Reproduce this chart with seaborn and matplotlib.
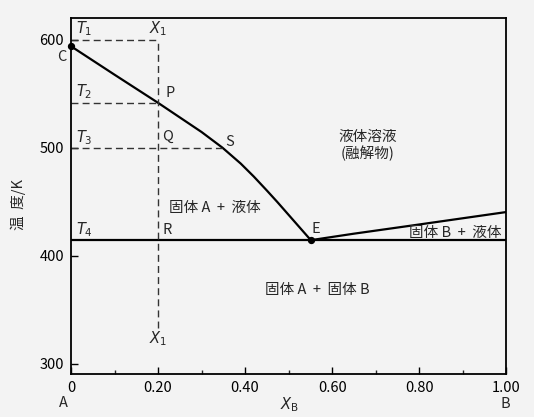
import numpy as np
import pandas as pd
import matplotlib
matplotlib.use('Agg')
import matplotlib.pyplot as plt
import seaborn as sns

# 液相線 (A側, B側) と共晶点
left_x = [0.0, 0.10, 0.20, 0.30, 0.348, 0.39, 0.42, 0.45, 0.474, 0.551]
left_t = [593.8, 567.5, 541.5, 514.5, 500, 485.3, 473.3, 460.4, 449.8, 414.5]
right_x = [0.551, 0.65, 0.80, 1.00]
right_t = [414.5, 420.5, 429, 440.5]
eutectic_t = 414.5
T_levels = [600, 541.5, 500]
x1 = 0.20
xticks = [0, 0.2, 0.4, 0.6, 0.8, 1.0]
xtick_labels = ['0', '0.20', '0.40', '0.60', '0.80', '1.00']
yticks = [300, 400, 500, 600]

sns.set_style('ticks')
plt.rcParams['font.family'] = ['Noto Sans CJK JP', 'DejaVu Sans']
plt.rcParams['axes.unicode_minus'] = False

bg = '#f3f3f3'
fig = plt.figure(figsize=(5.34, 4.17), dpi=100, facecolor=bg)
ax = fig.add_axes([0.133, 0.103, 0.815, 0.854])
ax.set_facecolor(bg)

df_l = pd.DataFrame({'x': left_x, 't': left_t})
df_r = pd.DataFrame({'x': right_x, 't': right_t})
sns.lineplot(data=df_l, x='x', y='t', sort=False, color='black', lw=1.6, ax=ax)
sns.lineplot(data=df_r, x='x', y='t', sort=False, color='black', lw=1.6, ax=ax)
ax.axhline(eutectic_t, color='black', lw=1.6)

# 破線
dash = (0, (5, 3))
ax.hlines(T_levels[0], 0, x1, colors='#333', linestyles=dash, lw=1)
ax.hlines(T_levels[1], 0, x1, colors='#333', linestyles=dash, lw=1)
ax.hlines(T_levels[2], 0, 0.348, colors='#333', linestyles=dash, lw=1)
ax.vlines(x1, 333, T_levels[0], colors='#333', linestyles=dash, lw=1)

ax.scatter([0, 0.551], [593.8, eutectic_t], s=18, color='black', zorder=5, clip_on=False)

fs = 10.5
kw = dict(fontsize=fs, ha='center', va='center')
ax.text(0.03, 610.5, r'$T_1$', **kw)
ax.text(0.03, 551.4, r'$T_2$', **kw)
ax.text(0.03, 509.7, r'$T_3$', **kw)
ax.text(0.03, 424.5, r'$T_4$', **kw)
ax.text(0.20, 610.5, r'$X_1$', **kw)
ax.text(0.20, 323.6, r'$X_1$', **kw)
ax.text(-0.021, 583.8, 'C', **kw)
ax.text(0.228, 550.5, 'P', **kw)
ax.text(0.221, 509.7, 'Q', **kw)
ax.text(0.364, 505, 'S', **kw)
ax.text(0.221, 423.6, 'R', **kw)
ax.text(0.562, 424.5, 'E', **kw)

ax.text(0.33, 444, '固体 A  +  液体', **kw)
ax.text(0.682, 502, '液体溶液\n(融解物)', linespacing=1.15, **kw)
ax.text(0.883, 421.5, '固体 B  +  液体', **kw)
ax.text(0.565, 368, '固体 A  +  固体 B', **kw)

ax.set_xlim(0, 1.0)
ax.set_ylim(290.7, 620)
ax.set_xticks(xticks)
ax.set_xticklabels(xtick_labels, fontsize=fs)
ax.set_xticks([0.1, 0.3, 0.5, 0.7, 0.9], minor=True)
ax.set_yticks(yticks)
ax.set_yticklabels([str(v) for v in yticks], fontsize=fs)
ax.tick_params(direction='in', length=5, width=1, colors='black', pad=5)
ax.tick_params(which='minor', direction='in', length=3, width=1)
for s in ax.spines.values():
    s.set_linewidth(1.3)
    s.set_color('black')

ax.set_xlabel('')
ax.set_ylabel('温  度/K', fontsize=fs)
ax.yaxis.set_label_coords(-0.103, 0.475)
fig.text(0.118, 0.034, 'A', fontsize=fs, ha='center', va='center')
fig.text(0.947, 0.031, 'B', fontsize=fs, ha='center', va='center')
fig.text(0.543, 0.029, r'$X_\mathrm{B}$', fontsize=fs, ha='center', va='center')

fig.savefig('out.png', dpi=100, facecolor=bg)
